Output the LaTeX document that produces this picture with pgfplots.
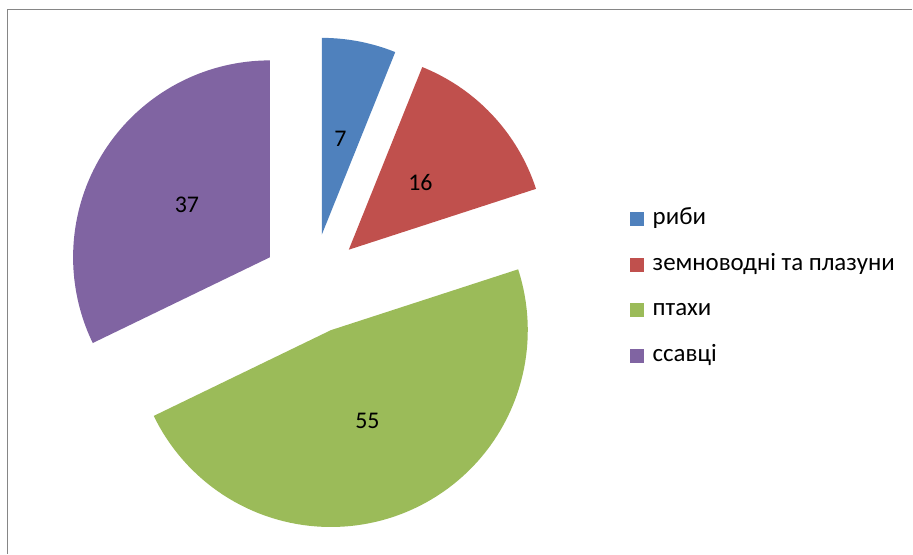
\documentclass[border=0pt]{standalone}
\usepackage{pgfplots}
\pgfplotsset{compat=1.18}
\usepackage{pgfplotstable}
\usepackage{fontspec}
\setmainfont{Carlito}
\definecolor{cA}{HTML}{4F81BD}
\definecolor{cB}{HTML}{C0504D}
\definecolor{cC}{HTML}{9BBB59}
\definecolor{cD}{HTML}{8064A2}
\definecolor{frame}{RGB}{134,134,134}
% values of the chart
\def\vA{7}\def\vB{16}\def\vC{55}\def\vD{37}
\pgfmathsetmacro\total{\vA+\vB+\vC+\vD}
\def\cx{312.5}\def\cy{270}\def\dd{50}\def\rr{197}\def\lr{98}
\tikzset{lbl/.style={font=\fontsize{24}{28}\selectfont, inner sep=0pt}}
\newcommand\pieslice[3]{% #1 start, #2 value, #3 colour
  \pgfmathsetmacro\ta{#1/\total*360}%
  \pgfmathsetmacro\tb{(#1+#2)/\total*360}%
  \pgfmathsetmacro\tm{(\ta+\tb)/2}%
  \pgfmathsetmacro\ax{\cx+\dd*sin(\tm)}%
  \pgfmathsetmacro\ay{\cy+\dd*cos(\tm)}%
  \pgfmathsetmacro\lx{\ax+\lr*sin(\tm)}%
  \pgfmathsetmacro\ly{\ay+\lr*cos(\tm)}%
  \edef\doplot{\noexpand\addplot[fill=#3, draw=none, domain=\ta:\tb, samples=90] ({\ax+\rr*sin(x)},{\ay+\rr*cos(x)}) -- (axis cs:\ax,\ay) -- cycle;
  \noexpand\node[lbl] at (axis cs:\lx,\ly) {#2};}%
  \doplot
}
\begin{document}
\begin{tikzpicture}
\begin{axis}[
  scale only axis, width=913bp, height=554bp,
  xmin=0, xmax=913, ymin=0, ymax=554,
  hide axis, clip=false,
  legend image code/.code={\fill[#1] (0bp,-7bp) rectangle (14bp,7bp);},
  legend style={draw=none, fill=none, at={(axis cs:630,346)}, anchor=north west,
    inner sep=0pt, row sep=25bp, font=\fontsize{25}{29}\selectfont,
    nodes={inner sep=0pt, text height=16bp, text depth=5bp},
    column sep=9bp},
  legend cell align=left,
]
\path (axis cs:0,0) rectangle (axis cs:913,554);
\draw[frame, line width=1.3bp] (axis cs:7.5,0) -- (axis cs:7.5,544.5) -- (axis cs:913,544.5);
\pieslice{0}{\vA}{cA}
\pieslice{\vA}{\vB}{cB}
\pgfmathsetmacro\sC{\vA+\vB}
\pieslice{\sC}{\vC}{cC}
\pgfmathsetmacro\sD{\vA+\vB+\vC}
\pieslice{\sD}{\vD}{cD}
\legend{риби, земноводні та плазуни, птахи, ссавці}
\end{axis}
\end{tikzpicture}
\end{document}
